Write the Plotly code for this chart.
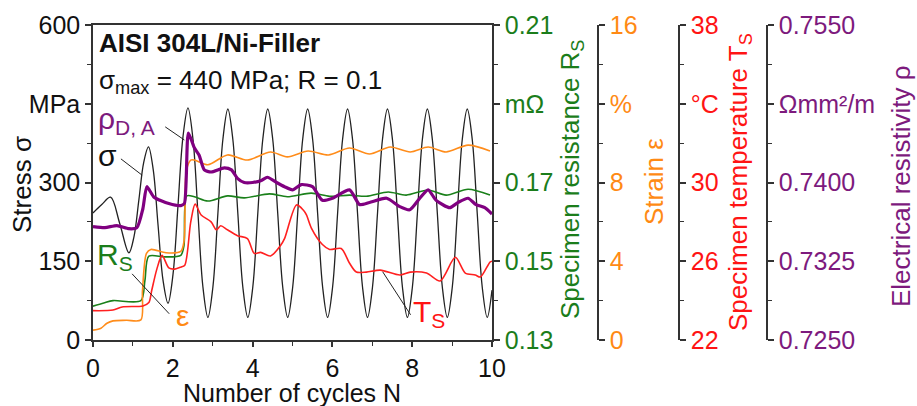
import plotly.graph_objects as go

# ---------------- data ----------------
stress_x = [0.00, 0.22, 0.44, 0.67, 0.90, 1.025, 1.15, 1.27, 1.39, 1.51, 1.63, 1.755, 1.88,
            2.005, 2.13, 2.255, 2.38, 2.505, 2.63, 2.755, 2.88,
            3.005, 3.13, 3.255, 3.38, 3.505, 3.63, 3.755, 3.88,
            4.005, 4.13, 4.255, 4.38, 4.505, 4.63, 4.755, 4.88,
            5.005, 5.13, 5.255, 5.38, 5.505, 5.63, 5.755, 5.88,
            6.005, 6.13, 6.255, 6.38, 6.505, 6.63, 6.755, 6.88,
            7.005, 7.13, 7.255, 7.38, 7.505, 7.63, 7.755, 7.88,
            8.005, 8.13, 8.255, 8.38, 8.505, 8.63, 8.755, 8.88,
            9.005, 9.13, 9.255, 9.38, 9.505, 9.63, 9.755, 9.88, 10.0]
stress_y = [242, 258, 272, 222, 166, 196, 267, 338, 368, 324, 219, 114, 70,
            125, 256, 387, 442, 383, 242, 101, 43,
            101, 241, 382, 440, 382, 241, 101, 43,
            101, 241, 382, 440, 382, 241, 101, 43,
            101, 241, 382, 440, 382, 241, 101, 43,
            101, 241, 382, 440, 382, 241, 101, 43,
            101, 241, 382, 440, 382, 241, 101, 43,
            101, 241, 382, 440, 382, 241, 101, 43,
            101, 241, 382, 440, 382, 241, 101, 43, 95]

rho_x = [0, 0.3, 0.6, 0.9, 1.1, 1.25, 1.35, 1.53, 1.9, 2.2, 2.29, 2.39, 2.54, 2.66, 2.79, 2.96,
         3.29, 3.47, 3.62, 3.79, 4.0, 4.22, 4.37, 4.6, 4.8, 5.0, 5.22, 5.5, 5.75, 6.0, 6.43,
         6.68, 6.93, 7.36, 7.69, 7.94, 8.19, 8.4, 8.6, 8.94, 9.15, 9.4, 9.6, 9.82, 10.0]
rho_y = [0.7358, 0.7357, 0.7359, 0.7356, 0.7357, 0.7375, 0.7396, 0.7386, 0.7380, 0.7378,
         0.7380, 0.7447, 0.7433, 0.7426, 0.7412, 0.7410, 0.7414, 0.7412, 0.7404, 0.7400,
         0.7400, 0.7402, 0.7405, 0.7400, 0.7396, 0.7393, 0.7398, 0.7396, 0.7383, 0.7385,
         0.7393, 0.7379, 0.7381, 0.7385, 0.7377, 0.7374, 0.7385, 0.7393, 0.7383, 0.7376,
         0.7381, 0.7385, 0.7379, 0.7376, 0.7370]

rs_x = [0, 0.27, 0.5, 1.2, 1.3, 1.4, 1.8, 2.2, 2.28, 2.35, 2.54, 2.88, 3.37, 3.79, 4.42,
        4.87, 5.47, 5.93, 6.43, 6.85, 7.4, 7.85, 8.4, 8.85, 9.4, 9.95]
rs_y = [0.1386, 0.1394, 0.1400, 0.1400, 0.1450, 0.1513, 0.1511, 0.1515, 0.1540, 0.1666,
        0.1664, 0.1653, 0.1666, 0.1661, 0.1671, 0.1664, 0.1673, 0.1665, 0.1668, 0.1665,
        0.1676, 0.1668, 0.1681, 0.1668, 0.1683, 0.1668]

eps_x = [0, 0.2, 0.35, 0.5, 0.84, 1.2, 1.24, 1.34, 1.45, 1.83, 2.2, 2.28, 2.34, 2.45, 2.54,
         2.88, 3.37, 3.87, 4.45, 4.87, 5.39, 5.9, 6.43, 6.93, 7.45, 7.95, 8.4, 8.85, 9.4, 9.95]
eps_y = [0.5, 0.6, 0.85, 0.97, 1.0, 1.02, 2.5, 4.4, 4.6, 4.43, 4.5, 5.0, 8.6, 9.14, 9.14,
         8.9, 9.4, 9.14, 9.55, 9.3, 9.6, 9.4, 9.75, 9.45, 9.8, 9.55, 9.8, 9.55, 9.9, 9.6]

ts_x = [0, 0.5, 0.73, 1.25, 1.4, 1.47, 1.6, 1.73, 1.9, 2.05, 2.2, 2.3, 2.45, 2.56, 2.71, 2.96,
        3.09, 3.2, 3.37, 3.62, 3.87, 4.04, 4.2, 4.45, 4.7, 4.8, 5.1, 5.27, 5.35, 5.47, 5.75,
        5.93, 6.22, 6.43, 6.6, 6.85, 7.2, 7.69, 7.95, 8.36, 8.7, 9.08, 9.33, 9.58, 9.71, 9.95, 10.0]
ts_y = [23.49, 23.52, 23.68, 23.73, 23.9, 24.5, 25.6, 26.3, 25.66, 25.6, 25.7, 25.8, 28.0,
        28.9, 28.35, 28.0, 27.6, 27.8, 27.6, 27.3, 27.15, 26.4, 26.45, 26.27, 26.8, 27.15,
        28.86, 28.6, 28.35, 27.7, 26.85, 26.6, 26.65, 25.9, 25.45, 25.45, 25.55, 25.3, 25.45,
        25.4, 25.0, 26.2, 25.4, 25.3, 25.2, 25.96, 26.0]

x_ticks = [0, 2, 4, 6, 8, 10]
s_ticks = [0, 150, 300, 450, 600]
s_text = ['0', '150', '300', 'MPa', '600']
rs_ticks = [0.13, 0.15, 0.17, 0.19, 0.21]
rs_text = ['0.13', '0.15', '0.17', 'mΩ', '0.21']
eps_ticks = [0, 4, 8, 12, 16]
eps_text = ['0', '4', '8', '%', '16']
ts_ticks = [22, 26, 30, 34, 38]
ts_text = ['22', '26', '30', '°C', '38']
rho_ticks = [0.7250, 0.7325, 0.7400, 0.7475, 0.7550]
rho_text = ['0.7250', '0.7325', '0.7400', 'Ωmm²/m', '0.7550']

# ---------------- styling ----------------
FONT = 'Liberation Sans, Arial, sans-serif'
C_BLACK = '#111111'
C_GREEN = '#1b7d1b'
C_ORANGE = '#ff8a14'
C_RED = '#ff1414'
C_PURPLE = '#7d1a7d'
AX = '#333333'
FS = 25

L, R, T, B = 93, 150, 25, 66
W, H = 917, 406
PW = W - L - R


def px_to_paper_x(px):
    return (px - L) / PW


x_end = px_to_paper_x(492)

fig = go.Figure()
fig.add_trace(go.Scatter(x=rho_x, y=rho_y, yaxis='y5', mode='lines',
                         line=dict(color='#800080', width=3.2, shape='spline', smoothing=0.6),
                         showlegend=False))
fig.add_trace(go.Scatter(x=rs_x, y=rs_y, yaxis='y2', mode='lines',
                         line=dict(color='#1a801a', width=1.6, shape='spline', smoothing=0.8),
                         showlegend=False))
fig.add_trace(go.Scatter(x=eps_x, y=eps_y, yaxis='y3', mode='lines',
                         line=dict(color='#ff8c1a', width=1.6, shape='spline', smoothing=0.8),
                         showlegend=False))
fig.add_trace(go.Scatter(x=ts_x, y=ts_y, yaxis='y4', mode='lines',
                         line=dict(color='#ff2020', width=1.6, shape='spline', smoothing=0.8),
                         showlegend=False))
fig.add_trace(go.Scatter(x=stress_x, y=stress_y, yaxis='y', mode='lines',
                         line=dict(color='#222222', width=1.3, shape='spline', smoothing=1.0),
                         showlegend=False))


def yax(rng, tv, tt, col, minor_vals, **kw):
    d = dict(range=rng, tickmode='array', tickvals=tv, ticktext=tt,
             showline=True, linecolor=AX, linewidth=1.5, ticks='outside', ticklen=6,
             tickwidth=1.5, tickcolor=AX, showgrid=False, zeroline=False,
             tickfont=dict(family=FONT, size=FS, color=col),
             minor=dict(tickvals=minor_vals, ticks='outside', ticklen=4, tickcolor=AX, tickwidth=1.2))
    d.update(kw)
    return d


fig.update_layout(
    width=W, height=H, margin=dict(l=L, r=R, t=T, b=B),
    paper_bgcolor='white', plot_bgcolor='white',
    xaxis=dict(domain=[0, x_end], range=[0, 10], tickvals=x_ticks, showline=True, mirror=True,
               linecolor=AX, linewidth=1.5, ticks='outside', ticklen=5, tickwidth=1.5,
               tickcolor=AX, showgrid=False, zeroline=False,
               tickfont=dict(family=FONT, size=FS, color=C_BLACK),
               minor=dict(tickvals=[1, 3, 5, 7, 9], ticks='outside', ticklen=4,
                          tickcolor=AX, tickwidth=1.2)),
    yaxis=yax([0, 600], s_ticks, s_text, C_BLACK, [75, 225, 375, 525]),
    yaxis2=yax([0.13, 0.21], rs_ticks, rs_text, C_GREEN, [0.14, 0.16, 0.18, 0.20],
               overlaying='y', side='right', anchor='x'),
    yaxis3=yax([0, 16], eps_ticks, eps_text, C_ORANGE, [2, 6, 10, 14],
               overlaying='y', side='right', anchor='free', position=px_to_paper_x(598)),
    yaxis4=yax([22, 38], ts_ticks, ts_text, C_RED, [24, 28, 32, 36],
               overlaying='y', side='right', anchor='free', position=px_to_paper_x(679)),
    yaxis5=yax([0.725, 0.755], rho_ticks, rho_text, C_PURPLE,
               [0.72875, 0.73625, 0.74375, 0.75125],
               overlaying='y', side='right', anchor='free', position=px_to_paper_x(767)),
)


def ypap(py):
    return (340 - py) / 315


ann = []
# axis titles
ann.append(dict(text='Stress σ', x=px_to_paper_x(22), y=ypap(185), textangle=-90,
                font=dict(color=C_BLACK)))
ann.append(dict(text='Number of cycles N', x=px_to_paper_x(292), y=ypap(409),
                yanchor='bottom', font=dict(color=C_BLACK, size=25)))
ann.append(dict(text='Specimen resistance R<sub>S</sub>', x=px_to_paper_x(571), y=ypap(180),
                textangle=-90, font=dict(color=C_GREEN)))
ann.append(dict(text='Strain ε', x=px_to_paper_x(654), y=ypap(182), textangle=-90,
                font=dict(color=C_ORANGE)))
ann.append(dict(text='Specimen temperature T<sub>S</sub>', x=px_to_paper_x(739), y=ypap(182),
                textangle=-90, font=dict(color=C_RED)))
ann.append(dict(text='Electrical resistivity ρ', x=px_to_paper_x(901), y=ypap(186),
                textangle=-90, font=dict(color=C_PURPLE)))
# headers inside plot
ann.append(dict(text='<b>AISI 304L/Ni-Filler</b>', x=px_to_paper_x(97), y=ypap(43),
                xanchor='left', font=dict(color=C_BLACK, size=26)))
ann.append(dict(text='σ<sub>max</sub> = 440 MPa; R = 0.1', x=px_to_paper_x(97), y=ypap(81),
                xanchor='left', font=dict(color=C_BLACK, size=26)))

for a in ann:
    a.setdefault('xref', 'paper')
    a.setdefault('yref', 'paper')
    a['showarrow'] = False
    a.setdefault('xanchor', 'center')
    a.setdefault('yanchor', 'middle')
    f = a['font']
    f.setdefault('size', 26)
    f['family'] = FONT

# curve labels (data coordinates)
labels = [
    dict(text='ρ<sub>D, A</sub>', x=0.08, y=418, color=C_PURPLE),
    dict(text='σ', x=0.08, y=352, color=C_BLACK),
    dict(text='R<sub>S</sub>', x=0.05, y=160, color=C_GREEN),
    dict(text='ε', x=2.02, y=46, color=C_ORANGE),
    dict(text='T<sub>S</sub>', x=7.96, y=50, color=C_RED),
]
for lb in labels:
    ann.append(dict(text=lb['text'], x=lb['x'], y=lb['y'], xref='x', yref='y',
                    showarrow=False, xanchor='left', yanchor='middle',
                    font=dict(family=FONT, size=30, color=lb['color'])))

fig.update_layout(annotations=ann)

# pointer lines (data coordinates)
pointer_x0 = [1.81, 0.70, 0.98, 7.26]
pointer_y0 = [406, 345, 126, 130]
pointer_x1 = [2.29, 1.23, 1.91, 7.96]
pointer_y1 = [381, 314, 50, 48]
for x0, y0, x1, y1 in zip(pointer_x0, pointer_y0, pointer_x1, pointer_y1):
    fig.add_shape(type='line', xref='x', yref='y', x0=x0, y0=y0, x1=x1, y1=y1,
                  line=dict(color='#222222', width=1))

fig.write_html('out.html')
